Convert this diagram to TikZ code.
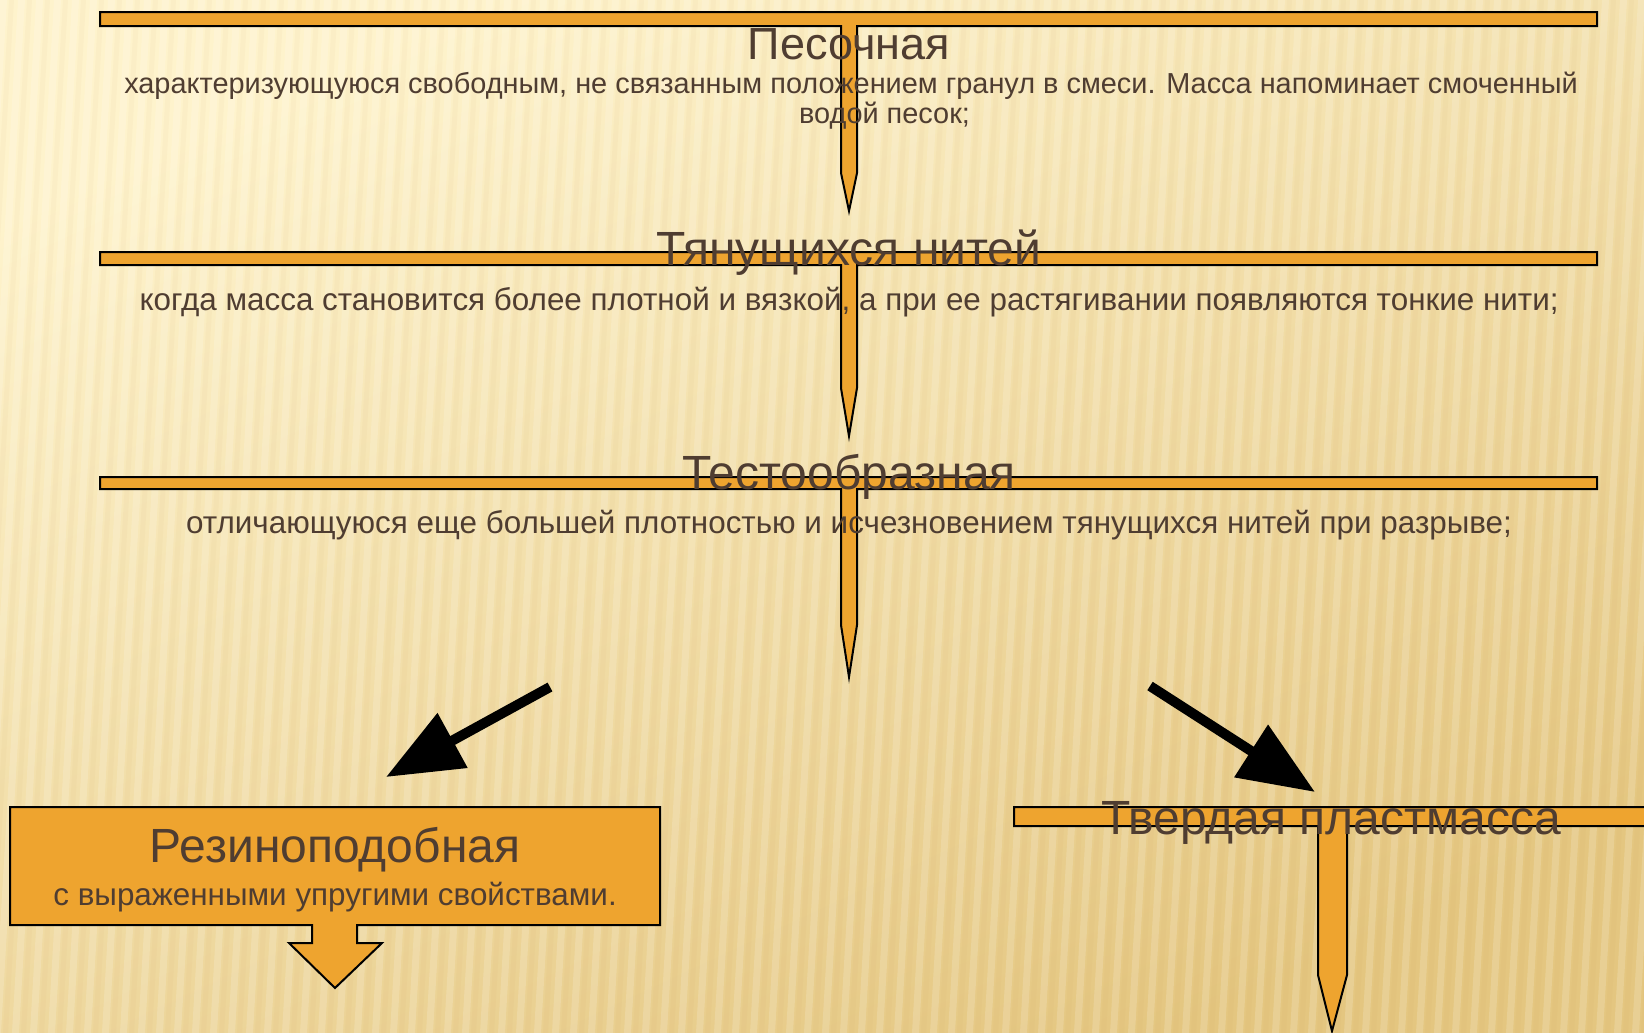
\documentclass[tikz,border=0pt]{standalone}
\usepackage{fontspec}
\setmainfont{Liberation Sans}
\usetikzlibrary{arrows.meta}
\definecolor{callfill}{HTML}{EEA42F}
\definecolor{txt}{HTML}{4F3D31}
\definecolor{bgA}{HTML}{FEF3CC}
\definecolor{bgB}{HTML}{E4C680}
\begin{document}
\begin{tikzpicture}[x=0.5pt,y=-0.5pt,
  callout/.style={fill=callfill,draw=black,line width=1pt,line join=miter},
  title/.style={text=txt,font=\fontsize{24}{28}\selectfont,inner sep=0pt},
  desc/.style={text=txt,font=\fontsize{15.7}{15}\selectfont,inner sep=0pt,align=center},
  bigarrow/.style={line width=5pt,draw=black,-{Triangle[length=38pt,width=30pt]}}
]
\useasboundingbox (0,0) rectangle (1644,1033);
\clip (0,0) rectangle (1644,1033);
% background
\shade[top color=bgA,bottom color=bgB,shading angle=25] (0,0) rectangle (1644,1033);
\foreach \i in {0,18,...,1740} {
  \fill[white,opacity=0.16] (\i,0) -- (\i+7,0) -- (\i-53,1033) -- (\i-60,1033) -- cycle;
  \fill[brown,opacity=0.04] (\i+9,0) -- (\i+14,0) -- (\i-46,1033) -- (\i-51,1033) -- cycle;
}
% callout shapes
\draw[callout] (100,12) -- (1597,12) -- (1597,26) -- (857,26) -- (857,173) -- (849,211) -- (841,173) -- (841,26) -- (100,26) -- cycle;
\draw[callout] (100,252) -- (1597,252) -- (1597,265) -- (857,265) -- (857,388) -- (849,436) -- (841,388) -- (841,265) -- (100,265) -- cycle;
\draw[callout] (100,477) -- (1597,477) -- (1597,489) -- (857,489) -- (857,625) -- (849,677) -- (841,625) -- (841,489) -- (100,489) -- cycle;
\draw[callout] (10,807) -- (660,807) -- (660,925) -- (357,925) -- (357,943) -- (382,943) -- (335,988) -- (289,943) -- (312,943) -- (312,925) -- (10,925) -- cycle;
\draw[callout] (1014,807) -- (1660,807) -- (1660,826) -- (1347,826) -- (1347,975) -- (1332,1031) -- (1318,975) -- (1318,826) -- (1014,826) -- cycle;
% texts
\node[title,font=\fontsize{22.5}{26}\selectfont] (t1) at (849,44) {Песочная};
\node[desc,font=\fontsize{14.45}{15}\selectfont] (d1) at (851,101) {характеризующуюся свободным, не связанным положением гранул в смеси. Масса напоминает смоченный\\\hspace*{33.6pt}водой песок;};
\node[title] (t2) at (849,253) {Тянущихся нитей};
\node[desc] (d2) at (849,302) {когда масса становится более плотной и вязкой, а при ее растягивании появляются тонкие нити;};
\node[title] (t3) at (849,477) {Тестообразная};
\node[desc] (d3) at (849,525) {отличающуюся еще большей плотностью и исчезновением тянущихся нитей при разрыве;};
\node[title] (t4) at (335,850) {Резиноподобная};
\node[desc] (d4) at (335,897) {с выраженными упругими свойствами.};
\node[title] (t5) at (1331,823) {Твердая пластмасса};
% black arrows
\coordinate (a1s) at (550,687);
\coordinate (a1e) at (386,777);
\coordinate (a2s) at (1150,686);
\coordinate (a2e) at (1315,792);
\draw[bigarrow] (a1s) -- (a1e);
\draw[bigarrow] (a2s) -- (a2e);
\end{tikzpicture}
\end{document}
